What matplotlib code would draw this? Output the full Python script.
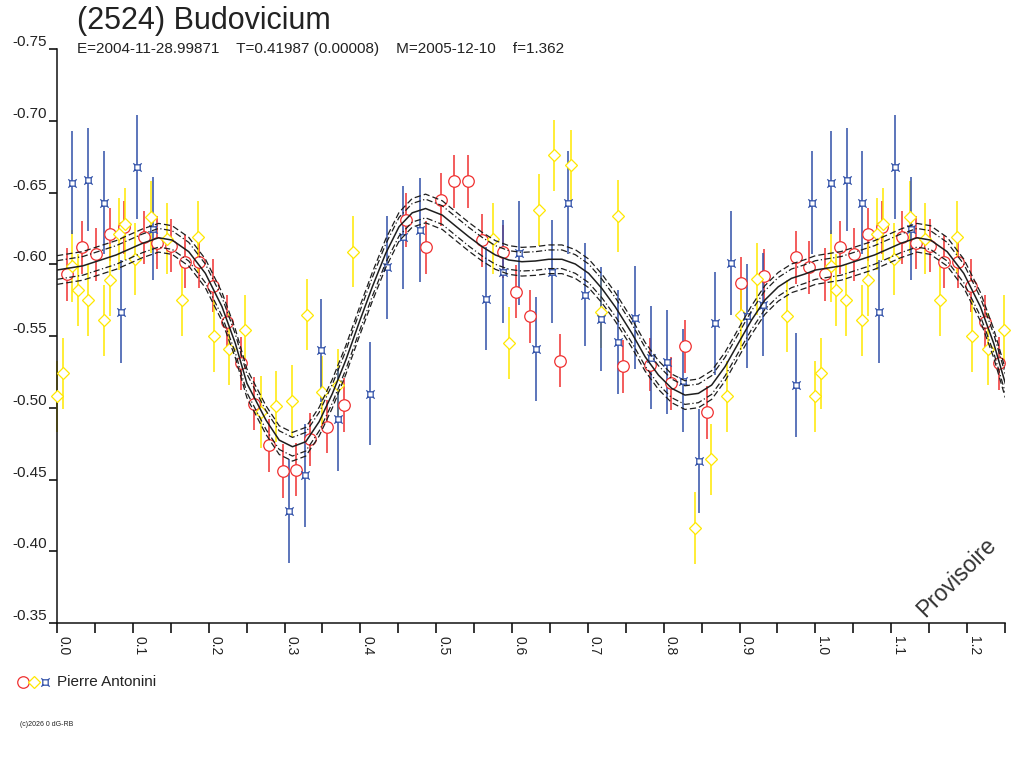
import numpy as np
import matplotlib
matplotlib.use('Agg')
import matplotlib.pyplot as plt
from matplotlib.path import Path

plt.rcParams['font.family'] = ['Liberation Sans', 'DejaVu Sans']

# ==================================================
#   Texts
title = '(2524) Budovicium'
subtitle = 'E=2004-11-28.99871    T=0.41987 (0.00008)    M=2005-12-10    f=1.362'
observer = 'Pierre Antonini'
stamp = 'Provisoire'
copyright_txt = '(c)2026 0 dG-RB'

# ==================================================
#   Data (phase, magnitude), one period
red_ph = [0.0132, 0.0325, 0.0509, 0.0697, 0.0878, 0.1145, 0.1320, 0.1505, 0.1690, 0.1878,
          0.2053, 0.2237, 0.2426, 0.2601, 0.2790, 0.2974, 0.3150, 0.3334, 0.3566, 0.3786,
          0.4605, 0.4868, 0.5058, 0.5237, 0.5417, 0.5605, 0.5878, 0.6053, 0.6233, 0.6637,
          0.7460, 0.7821, 0.8097, 0.8282, 0.8566, 0.9018, 0.9325, 0.9742, 0.9917]
red_mag = [-0.593, -0.612, -0.607, -0.621, -0.626, -0.619, -0.615, -0.613, -0.602, -0.602,
           -0.585, -0.560, -0.531, -0.503, -0.474, -0.456, -0.457, -0.478, -0.487, -0.502,
           -0.631, -0.612, -0.645, -0.658, -0.658, -0.617, -0.609, -0.581, -0.564, -0.533,
           -0.529, -0.530, -0.517, -0.543, -0.497, -0.587, -0.592, -0.605, -0.598]
red_err = 0.0185

yel_ph = [0.0000, 0.0075, 0.0202, 0.0272, 0.0408, 0.0618, 0.0693, 0.0816, 0.0895, 0.1032,
          0.1242, 0.1447, 0.1645, 0.1864, 0.2066, 0.2272, 0.2483, 0.2690, 0.2887, 0.3097,
          0.3299, 0.3492, 0.3707, 0.3908, 0.5750, 0.5957, 0.6355, 0.6553, 0.6776, 0.7171,
          0.7391, 0.8413, 0.8624, 0.8829, 0.9013, 0.9229, 0.9632]
yel_mag = [-0.508, -0.524, -0.599, -0.582, -0.575, -0.561, -0.589, -0.621, -0.628, -0.604,
           -0.633, -0.618, -0.575, -0.619, -0.550, -0.541, -0.554, -0.497, -0.501, -0.505,
           -0.565, -0.511, -0.516, -0.609, -0.618, -0.545, -0.638, -0.676, -0.669, -0.567,
           -0.634, -0.416, -0.464, -0.508, -0.565, -0.590, -0.564]
yel_err = 0.025

blu_ph = [0.0202, 0.0413, 0.0618, 0.0838, 0.1053, 0.1263, 0.3053, 0.3268, 0.3479, 0.3707,
          0.4128, 0.4355, 0.4562, 0.4782, 0.5658, 0.5878, 0.6088, 0.6312, 0.6526, 0.6742,
          0.6960, 0.7176, 0.7395, 0.7615, 0.7829, 0.8039, 0.8250, 0.8466, 0.8676, 0.8887,
          0.9097, 0.9308, 0.9750, 0.9953]
blu_mag = [-0.657, -0.659, -0.643, -0.567, -0.668, -0.625, -0.428, -0.453, -0.540, -0.492,
           -0.510, -0.598, -0.619, -0.624, -0.576, -0.595, -0.608, -0.541, -0.595, -0.643,
           -0.579, -0.562, -0.546, -0.563, -0.535, -0.532, -0.519, -0.463, -0.559, -0.601,
           -0.564, -0.572, -0.516, -0.643]
blu_err = 0.036

# fitted curve
crv_ph = [0.000, 0.034, 0.078, 0.1126, 0.134, 0.1518, 0.1737, 0.1956, 0.2175, 0.2351,
          0.2504, 0.2755, 0.293, 0.3105, 0.328, 0.3457, 0.3632, 0.3808, 0.398, 0.4158,
          0.4334, 0.451, 0.4684, 0.486, 0.508, 0.5255, 0.543, 0.5605, 0.578, 0.5957,
          0.613, 0.6308, 0.6483, 0.6658, 0.6834, 0.701, 0.7184, 0.736, 0.758, 0.7755,
          0.793, 0.8105, 0.828, 0.8457, 0.8632, 0.8808, 0.8983, 0.9158, 0.9334, 0.951,
          0.9684, 0.986, 1.000]
crv_mag = [-0.5961, -0.5990, -0.6066, -0.6147, -0.6186, -0.6170, -0.6089, -0.5938, -0.5706, -0.5450,
           -0.5171, -0.4915, -0.4775, -0.4729, -0.4764, -0.4904, -0.5101, -0.5333, -0.5589, -0.5844,
           -0.6077, -0.6263, -0.6360, -0.6390, -0.6344, -0.6268, -0.6193, -0.6124, -0.6066, -0.6031,
           -0.6019, -0.6024, -0.6036, -0.6036, -0.6003, -0.5938, -0.5833, -0.5705, -0.5520, -0.5356,
           -0.5229, -0.5136, -0.5089, -0.5101, -0.5159, -0.5287, -0.5450, -0.5612, -0.5752, -0.5844,
           -0.5903, -0.5933, -0.5961]
sig_in = 0.0065
sig_out = 0.0100

ytick_vals = [-0.75, -0.70, -0.65, -0.60, -0.55, -0.50, -0.45, -0.40, -0.35]
xtick_vals = [0.0, 0.1, 0.2, 0.3, 0.4, 0.5, 0.6, 0.7, 0.8, 0.9, 1.0, 1.1, 1.2]

C_RED = '#f03030'
C_YEL = '#ffe800'
C_BLU = '#3050a8'
C_CRV = '#1e1e1e'


# ==================================================
def wrap(ph, mag, upto=0.25):
    # the phase plot repeats the start of the period after 1.0
    ph, mag = np.array(ph), np.array(mag)
    sel = (ph < upto)
    return np.concatenate([ph, ph[sel] + 1]), np.concatenate([mag, mag[sel]])


def blue_marker():
    v = [(-0.55, -0.55), (0.55, -0.55), (0.55, 0.55), (-0.55, 0.55), (-0.55, -0.55),
         (-0.55, -0.55), (-0.85, -0.85), (0.55, -0.55), (0.85, -0.85),
         (0.55, 0.55), (0.85, 0.85), (-0.55, 0.55), (-0.85, 0.85)]
    c = [Path.MOVETO, Path.LINETO, Path.LINETO, Path.LINETO, Path.LINETO,
         Path.MOVETO, Path.LINETO, Path.MOVETO, Path.LINETO,
         Path.MOVETO, Path.LINETO, Path.MOVETO, Path.LINETO]
    return Path(v, c)


BLU_MK = blue_marker()

fig = plt.figure(figsize=(10.24, 7.68), dpi=100)
ax = fig.add_axes([57 / 1024, 1 - 623 / 768, (1005 - 57) / 1024, (623 - 49.3) / 768])

series = [(red_ph, red_mag, red_err, C_RED, 'o', 8.3),
          (yel_ph, yel_mag, yel_err, C_YEL, 'D', 5.8),
          (blu_ph, blu_mag, blu_err, C_BLU, BLU_MK, 6.0)]

for ph, mag, err, col, mk, ms in series:
    x, y = wrap(ph, mag)
    ax.errorbar(x, y, yerr=err, fmt='none', ecolor=col, elinewidth=1.1, capsize=0,
                clip_on=False, zorder=2)

for ph, mag, err, col, mk, ms in series:
    x, y = wrap(ph, mag)
    ax.plot(x, y, linestyle='none', marker=mk, markersize=ms, markerfacecolor='white',
            markeredgecolor=col, markeredgewidth=0.9, clip_on=False, zorder=3)

# fitted curve + uncertainty envelopes
cph = np.array(crv_ph)
cmag = np.array(crv_mag)
sel = (cph > 0) & (cph <= 0.2504)
cx = np.concatenate([cph, cph[sel] + 1])
cy = np.concatenate([cmag, cmag[sel]])
ax.plot(cx, cy, color=C_CRV, lw=1.1, zorder=4)
for s in (-sig_in, sig_in):
    ax.plot(cx, cy + s, color=C_CRV, lw=0.9, linestyle=(0, (5, 2, 1, 2)), zorder=4)
for s in (-sig_out, sig_out):
    ax.plot(cx, cy + s, color=C_CRV, lw=0.9, linestyle=(0, (5, 2.5)), zorder=4)

ax.set_xlim(0, 1.25)
ax.set_ylim(-0.35, -0.75)

ax.spines['top'].set_visible(False)
ax.spines['right'].set_visible(False)
for sp in ('left', 'bottom'):
    ax.spines[sp].set_linewidth(1.1)
    ax.spines[sp].set_color('#111111')

ax.set_yticks(ytick_vals)
ax.set_yticklabels(['%.2f' % v for v in ytick_vals], fontsize=11, color='#222222')
for lbl in ax.get_yticklabels():
    lbl.set_verticalalignment('bottom')
ax.tick_params(axis='y', direction='out', length=6, width=1.1, pad=1)

ax.set_xticks(xtick_vals)
ax.set_xticks([v + 0.05 for v in xtick_vals], minor=True)
ax.set_xticklabels(['%.1f' % v for v in xtick_vals], fontsize=10, color='#222222',
                   rotation=-90, ha='left', va='top')
ax.tick_params(axis='x', which='both', direction='out', length=7, width=1.1, pad=2)

# header
fig.text(77 / 1024, 1 - 29 / 768, title, fontsize=22, color='#222222', va='baseline')
fig.text(77 / 1024, 1 - 53 / 768, subtitle, fontsize=11, color='#222222', va='baseline')

# observer legend
for xp, col, mk, ms in [(23, C_RED, 'o', 8.3), (34, C_YEL, 'D', 5.8), (45, C_BLU, BLU_MK, 6.0)]:
    fig.add_artist(plt.Line2D([xp / 1024], [1 - 682 / 768], transform=fig.transFigure,
                              linestyle='none', marker=mk, markersize=ms,
                              markerfacecolor='white', markeredgecolor=col,
                              markeredgewidth=0.9))
fig.text(57 / 1024, 1 - 682 / 768, observer, fontsize=11, color='#222222', va='center')

fig.text(20 / 1024, 1 - 725 / 768, copyright_txt, fontsize=5, color='#222222', va='center')

fig.text(957 / 1024, 1 - 577 / 768, stamp, fontsize=16.5, color='#333333', rotation=45,
         ha='center', va='center')

fig.savefig('out.png', dpi=100)
